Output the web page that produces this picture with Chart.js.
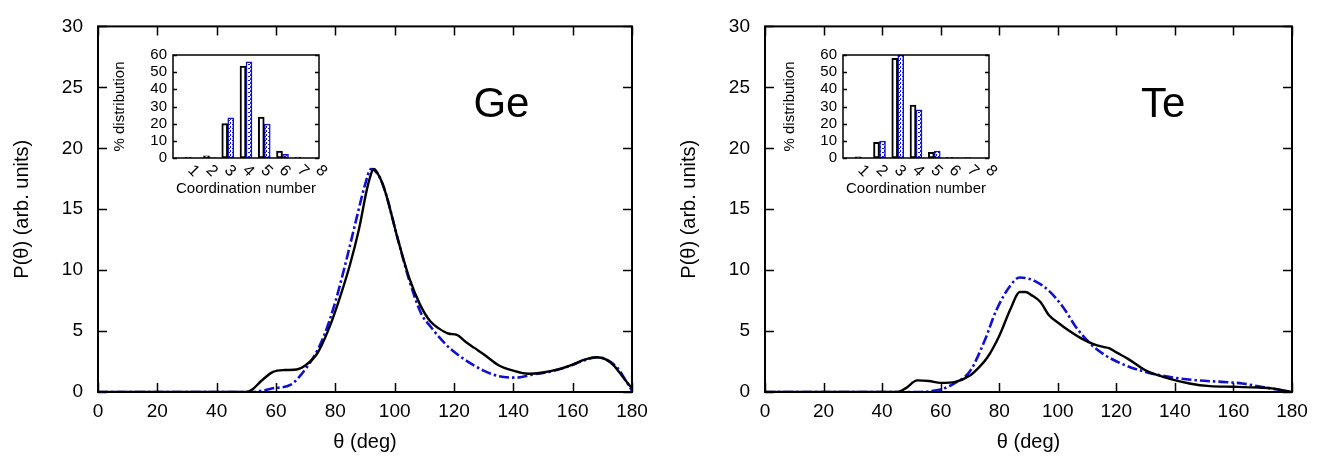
<!DOCTYPE html>
<html>
<head>
<meta charset="utf-8">
<script src="https://cdn.jsdelivr.net/npm/chart.js@4.4.1/dist/chart.umd.min.js"></script>
<style>
  html, body { margin: 0; padding: 0; background: #fff; }
  #wrap { position: relative; width: 1320px; height: 459px; overflow: hidden; background: #fff; }
  canvas { position: absolute; }
</style>
</head>
<body>
<div id="wrap">
  <canvas id="geMain" width="660" height="459" style="left:0;top:0"></canvas>
  <canvas id="teMain" width="653" height="459" style="left:667px;top:0"></canvas>
  <canvas id="geInset" width="230" height="165" style="left:100px;top:40px"></canvas>
  <canvas id="teInset" width="230" height="165" style="left:770px;top:40px"></canvas>
</div>
<script>
// bond angle distributions
var geSolidTheta = [0, 50, 52, 55, 59, 63, 67, 70, 74, 78, 82, 85, 88, 91, 93, 95, 97, 101, 105, 108.6, 112, 115, 118, 121, 124, 127, 130, 135, 140, 145, 150, 155, 160, 164, 168, 171, 174, 177, 180];
var geSolidP = [0, 0, 0.2, 0.9, 1.65, 1.8, 1.85, 2.2, 3.2, 5.3, 8.1, 10.5, 13.4, 17.0, 18.3, 17.6, 16.3, 12.6, 9.3, 7.15, 5.8, 5.2, 4.8, 4.68, 4.1, 3.6, 3.1, 2.2, 1.75, 1.5, 1.6, 1.85, 2.25, 2.65, 2.85, 2.7, 2.15, 1.2, 0.3];
var geDashTheta = [0, 52, 55, 59, 65, 70, 73, 76, 80, 84, 87, 90, 92, 95, 97, 101, 105, 109, 112, 115, 119, 124, 130, 135, 141, 147, 152, 158, 164, 168, 171, 175, 178, 180];
var geDashP = [0, 0, 0.1, 0.3, 0.6, 1.9, 3.0, 4.5, 7.4, 11.1, 14.1, 17.0, 18.3, 17.6, 16.3, 12.6, 9.1, 6.4, 5.4, 4.5, 3.5, 2.6, 1.75, 1.3, 1.18, 1.45, 1.65, 2.05, 2.6, 2.85, 2.7, 2.0, 0.9, 0.1];

var teSolidTheta = [0, 45, 48, 52, 56, 60, 65, 70, 73, 76, 80, 84, 87, 89, 91, 94, 97, 100, 104, 108, 112, 115.5, 117.5, 120, 124, 130, 138, 145, 152, 160, 167, 173, 180];
var teSolidP = [0, 0, 0.3, 0.95, 0.9, 0.75, 0.83, 1.35, 2.0, 2.85, 4.6, 6.9, 8.2, 8.2, 7.95, 7.4, 6.3, 5.7, 5.0, 4.4, 3.95, 3.7, 3.6, 3.25, 2.72, 1.77, 1.1, 0.7, 0.48, 0.43, 0.38, 0.3, 0];
var teDashTheta = [0, 53, 56, 60, 65, 70, 75, 79, 84, 87, 90, 93, 97, 102, 106, 111, 116, 122, 130, 138, 147, 156, 163, 170, 175, 180];
var teDashP = [0, 0, 0.05, 0.2, 0.75, 1.7, 4.2, 6.7, 8.8, 9.4, 9.3, 9.0, 8.3, 6.9, 5.4, 4.0, 3.05, 2.3, 1.64, 1.24, 0.97, 0.83, 0.7, 0.4, 0.2, 0];

// coordination number histograms (% distribution)
var coordNumbers = [1, 2, 3, 4, 5, 6, 7, 8];
var geCoordSolid = [0.5, 1.3, 20, 53.5, 23.8, 4.1, 0.5, 0];
var geCoordDash = [0, 0.2, 23.4, 56, 19.7, 2.2, 0, 0];
var teCoordSolid = [0.7, 9.2, 58, 30.8, 3.3, 0.4, 0.3, 0];
var teCoordDash = [0, 9.8, 60, 28, 4, 0.2, 0, 0];

var FONT = '"Liberation Sans", Arial, Helvetica, sans-serif';
var BLUE = '#1010d0';
Chart.defaults.font.family = FONT;
Chart.defaults.color = '#000';

function toPoints(xs, ys) {
  return xs.map(function(x, i) { return { x: x, y: ys[i] }; });
}

// box around the plot with inward ticks on every side
var frame = {
  id: 'frame',
  afterDraw: function(chart, args, opts) {
    var ctx = chart.ctx, a = chart.chartArea, sx = chart.scales.x, sy = chart.scales.y;
    ctx.save();
    ctx.strokeStyle = '#000';
    ctx.lineWidth = opts.width;
    ctx.strokeRect(a.left, a.top, a.right - a.left, a.bottom - a.top);
    ctx.beginPath();
    if (opts.xTicks) {
      sx.ticks.forEach(function(t) {
        var px = Math.round(sx.getPixelForValue(t.value)) + 0.5;
        ctx.moveTo(px, a.bottom); ctx.lineTo(px, a.bottom - opts.len);
        ctx.moveTo(px, a.top); ctx.lineTo(px, a.top + opts.len);
      });
    }
    sy.ticks.forEach(function(t) {
      var py = Math.round(sy.getPixelForValue(t.value)) + 0.5;
      ctx.moveTo(a.left, py); ctx.lineTo(a.left + opts.len, py);
      ctx.moveTo(a.right, py); ctx.lineTo(a.right - opts.len, py);
    });
    ctx.lineWidth = 1.5;
    ctx.stroke();
    ctx.restore();
  }
};

var panelName = {
  id: 'panelName',
  afterDraw: function(chart, args, opts) {
    if (!opts.text) return;
    var ctx = chart.ctx;
    ctx.save();
    ctx.font = '42px ' + FONT;
    ctx.fillStyle = '#000';
    ctx.textAlign = 'center';
    ctx.textBaseline = 'middle';
    ctx.fillText(opts.text, chart.scales.x.getPixelForValue(opts.x), chart.scales.y.getPixelForValue(opts.y));
    ctx.restore();
  }
};

// inset x labels, turned 45 degrees clockwise like the original
var rotatedLabels = {
  id: 'rotatedLabels',
  afterDraw: function(chart) {
    var ctx = chart.ctx, sx = chart.scales.x, a = chart.chartArea;
    ctx.save();
    ctx.font = '16px ' + FONT;
    ctx.fillStyle = '#000';
    ctx.textAlign = 'left';
    ctx.textBaseline = 'middle';
    coordNumbers.forEach(function(n) {
      ctx.save();
      ctx.translate(sx.getPixelForValue(n) - 1, a.bottom + 10);
      ctx.rotate(Math.PI / 4);
      ctx.fillText(String(n), 0, 0);
      ctx.restore();
    });
    ctx.restore();
  }
};

function makeHatch() {
  var c = document.createElement('canvas');
  c.width = 4; c.height = 4;
  var g = c.getContext('2d');
  g.fillStyle = '#fff';
  g.fillRect(0, 0, 4, 4);
  g.fillStyle = BLUE;
  g.fillRect(0, 0, 2, 1);
  g.fillRect(2, 2, 1, 2);
  return g.createPattern(c, 'repeat');
}

function createPanel(id, solidTheta, solidP, dashTheta, dashP, name) {
  return new Chart(document.getElementById(id), {
    type: 'line',
    data: {
      datasets: [
        { data: toPoints(solidTheta, solidP), borderColor: '#000', borderWidth: 2.4, pointRadius: 0, cubicInterpolationMode: 'monotone' },
        { data: toPoints(dashTheta, dashP), borderColor: BLUE, borderWidth: 2.6, borderDash: [10, 3, 2.5, 3], pointRadius: 0, cubicInterpolationMode: 'monotone' }
      ]
    },
    options: {
      responsive: false,
      animation: false,
      layout: { padding: { top: 20, right: 28, left: 0, bottom: 0 } },
      plugins: {
        legend: { display: false },
        tooltip: { enabled: false },
        frame: { len: 9, width: 2, xTicks: true },
        panelName: { text: name, x: 136, y: 23.5 }
      },
      scales: {
        x: {
          type: 'linear', min: 0, max: 180,
          ticks: { stepSize: 20, padding: 8, maxRotation: 0, font: { size: 19 } },
          grid: { display: false, drawTicks: false },
          border: { display: false },
          title: { display: true, text: 'θ (deg)', font: { size: 20 }, padding: { top: 0, bottom: 5 } },
          afterFit: function(s) { s.height = 67; }
        },
        y: {
          min: 0, max: 30,
          ticks: { stepSize: 5, padding: 15, font: { size: 19 } },
          grid: { display: false, drawTicks: false },
          border: { display: false },
          title: { display: true, text: 'P(θ) (arb. units)', font: { size: 20 }, padding: { top: 10, bottom: 0 } },
          afterFit: function(s) { s.width = 98; }
        }
      }
    },
    plugins: [frame, panelName]
  });
}

function createInset(id, solid, dash) {
  return new Chart(document.getElementById(id), {
    type: 'bar',
    data: {
      datasets: [
        { data: toPoints(coordNumbers, solid), backgroundColor: '#fff', borderColor: '#000', borderWidth: 2, borderSkipped: false, barThickness: 6 },
        { data: toPoints(coordNumbers, dash), backgroundColor: makeHatch(), borderColor: BLUE, borderWidth: 1.5, borderSkipped: false, barThickness: 6 }
      ]
    },
    options: {
      responsive: false,
      animation: false,
      layout: { padding: { top: 12, right: 11, left: 0, bottom: 0 } },
      plugins: {
        legend: { display: false },
        tooltip: { enabled: false },
        frame: { len: 4, width: 1.5, xTicks: false }
      },
      scales: {
        x: {
          type: 'linear', min: 0, max: 8, offset: false,
          ticks: { display: false, stepSize: 1 },
          grid: { display: false, drawTicks: false },
          border: { display: false },
          title: { display: true, text: 'Coordination number', font: { size: 15 }, padding: { top: 0, bottom: 7 } },
          afterFit: function(s) { s.height = 47; }
        },
        y: {
          min: 0, max: 60,
          ticks: { stepSize: 10, autoSkip: false, padding: 6, font: { size: 15 } },
          grid: { display: false, drawTicks: false },
          border: { display: false },
          title: { display: true, text: '% distribution', font: { size: 15 }, padding: { top: 11, bottom: 0 } },
          afterFit: function(s) { s.width = 73; }
        }
      }
    },
    plugins: [frame, rotatedLabels]
  });
}

createPanel('geMain', geSolidTheta, geSolidP, geDashTheta, geDashP, 'Ge');
createPanel('teMain', teSolidTheta, teSolidP, teDashTheta, teDashP, 'Te');
createInset('geInset', geCoordSolid, geCoordDash);
createInset('teInset', teCoordSolid, teCoordDash);
</script>
</body>
</html>
